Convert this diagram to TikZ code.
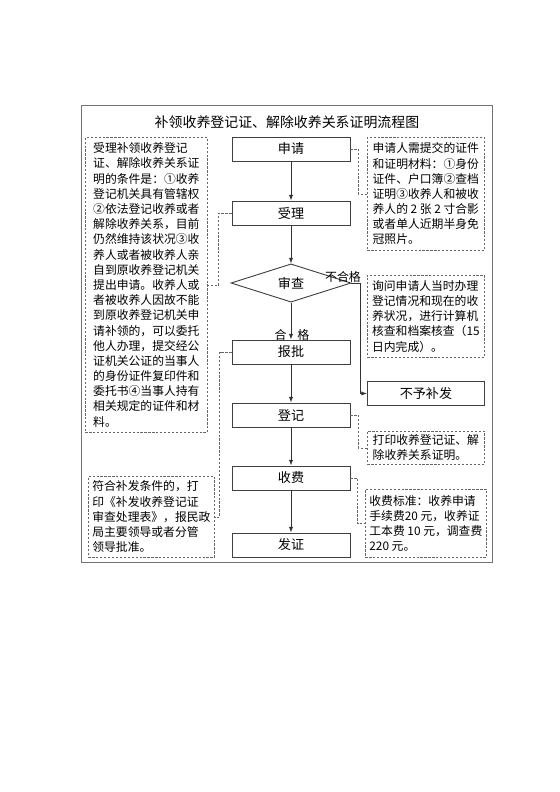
\documentclass[tikz,border=0pt]{standalone}
\usepackage{fontspec}
\setmainfont{Noto Sans CJK SC}
\usetikzlibrary{shapes.geometric}
\usetikzlibrary{arrows.meta}
\tikzset{flowbox/.style={draw=black!75,line width=0.65pt,minimum width=2.95cm,minimum height=0.6cm,inner sep=0pt,font=\fontsize{9.3pt}{11pt}\selectfont},
 checkbox/.style={diamond,draw=black!75,line width=0.65pt,minimum width=3cm,minimum height=0.925cm,inner sep=0pt,font=\fontsize{9.3pt}{11pt}\selectfont},
 notebox/.style={draw=black!60,dash pattern=on 1.6pt off 1.2pt,line width=0.5pt,anchor=north west,align=left,inner xsep=0.1cm,inner ysep=0.05cm,font=\fontsize{8.4pt}{10.8pt}\selectfont},
 flowline/.style={draw=black!80,line width=0.6pt,-{Latex[length=4pt,width=3pt]}},
 noteline/.style={draw=black!60,dash pattern=on 1.6pt off 1.2pt,line width=0.5pt},
 tag/.style={inner sep=0pt,font=\fontsize{8.5pt}{10pt}\selectfont},
 }

\begin{document}
\begin{tikzpicture}[x=0.025cm,y=-0.025cm]
        \useasboundingbox (0,0) rectangle (560,792);
        \draw [black!55, line width=0.6pt] (81,105) rectangle (492,562);
        \node [font=\fontsize{9.9pt}{12pt}\selectfont] (title) at (287,122) {补领收养登记证、解除收养关系证明流程图};
        \node [flowbox] (sq) at (291,149) {申请};
        \node [flowbox] (sl) at (291,213) {受理};
        \node [checkbox] (sc) at (291,283) {审查};
        \node [flowbox] (bp) at (291,352) {报批};
        \node [flowbox] (dj) at (291,415) {登记};
        \node [flowbox] (sf) at (291,478) {收费};
        \node [flowbox] (fz) at (291,545) {发证};
        \node [flowbox, anchor=north west, minimum width=2.925cm] (bf) at (367,381) {不予补发};
        \node [notebox, minimum width=3.05cm, minimum height=7.375cm] (ln1) at (85,137) {受理补领收养登记\\证、解除收养关系证\\明的条件是：①收养\\登记机关具有管辖权\\②依法登记收养或者\\解除收养关系，目前\\仍然维持该状况③收\\养人或者被收养人亲\\自到原收养登记机关\\提出申请。收养人或\\者被收养人因故不能\\到原收养登记机关申\\请补领的，可以委托\\他人办理，提交经公\\证机关公证的当事人\\的身份证件复印件和\\委托书④当事人持有\\相关规定的证件和材\\料。};
        \node [notebox, minimum width=3cm, minimum height=2.025cm] (ln2) at (88,476) {符合补发条件的，打\\印《补发收养登记证\\审查处理表》，报民政\\局主要领导或者分管\\领导批准。};
        \node [notebox, minimum width=2.925cm, minimum height=2.825cm] (rn1) at (367,137) {申请人需提交的证件\\和证明材料：①身份\\证件、户口簿②查档\\证明③收养人和被收\\养人的 2 张 2 寸合影\\或者单人近期半身免\\冠照片。};
        \node [notebox, minimum width=2.925cm, minimum height=2.05cm] (rn2) at (367,275) {询问申请人当时办理\\登记情况和现在的收\\养状况，进行计算机\\核查和档案核查（15\\日内完成）。};
        \node [notebox, minimum width=2.925cm, minimum height=0.825cm] (rn3) at (367,431) {打印收养登记证、解\\除收养关系证明。};
        \node [notebox, minimum width=3.025cm, minimum height=1.7cm] (rn4) at (365,489) {收费标准：收养申请\\手续费20 元，收养证\\工本费 10 元，调查费\\220 元。};
        \draw [flowline] (sq) -- (sl);
        \draw [flowline] (sl) -- (sc);
        \draw [flowline] (sc) -- (bp);
        \draw [flowline] (bp) -- (dj);
        \draw [flowline] (dj) -- (sf);
        \draw [flowline] (sf) -- (fz);
        \draw [flowline] (sc.east) -- ++(9,0) |- (bf.west);
        \node [tag] (ok) at (292,335) {合\hspace{0.9em}格};
        \node [tag] (no) at (343,277) {不合格};
        \draw [noteline] (sq.east) -- ++(8,0) |- (rn1.west);
        \draw [noteline] (sl.west) -- ++(-13,0) |- (ln1.east);
        \draw [noteline] (bp.west) -- ++(-12,0) |- (ln2.east);
        \draw [noteline] (dj.east) -- ++(8,0) |- (rn3.west);
        \draw [noteline] (sf.east) -- ++(7,0) |- (rn4.west);
    \end{tikzpicture}
\end{document}
